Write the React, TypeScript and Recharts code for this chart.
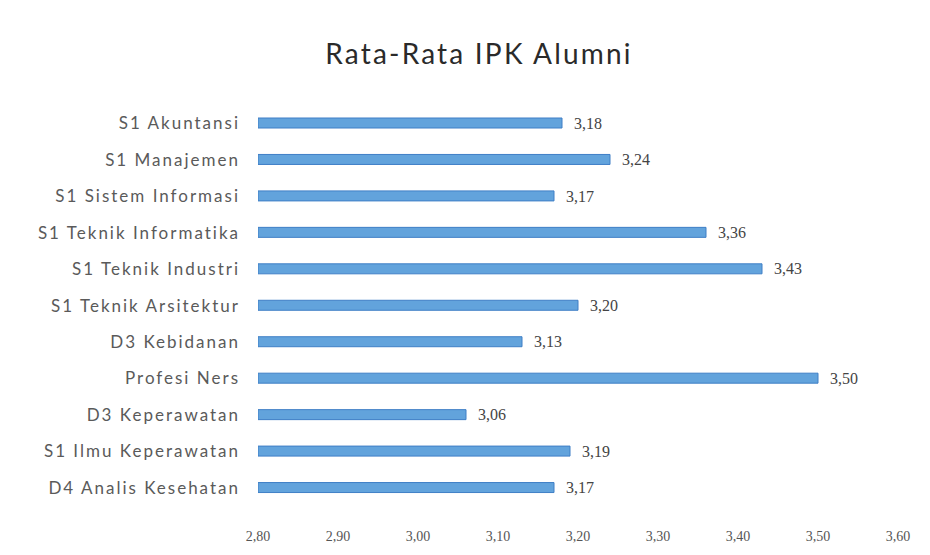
import { BarChart, Bar, XAxis, YAxis, LabelList } from "recharts";

const programs = [
  "S1 Akuntansi",
  "S1 Manajemen",
  "S1 Sistem Informasi",
  "S1 Teknik Informatika",
  "S1 Teknik Industri",
  "S1 Teknik Arsitektur",
  "D3 Kebidanan",
  "Profesi Ners",
  "D3 Keperawatan",
  "S1 Ilmu Keperawatan",
  "D4 Analis Kesehatan",
];

const ipk = [3.18, 3.24, 3.17, 3.36, 3.43, 3.2, 3.13, 3.5, 3.06, 3.19, 3.17];

const axisTicks = [2.8, 2.9, 3.0, 3.1, 3.2, 3.3, 3.4, 3.5, 3.6];

const data = programs.map((p, i) => ({ program: p, ipk: ipk[i] }));

const fmt = (v: number) => v.toFixed(2).replace(".", ",");

function App() {
  return (
    <div
      style={{
        position: "absolute",
        left: 0,
        top: 0,
        width: 930,
        height: 555,
        background: "#fff",
      }}
    >
      <div
        style={{
          position: "absolute",
          top: 36,
          left: 0,
          width: 958,
          textAlign: "center",
          fontFamily: "Lato",
          fontSize: 28,
          letterSpacing: 2.2,
          color: "#2a2a2a",
        }}
      >
        Rata-Rata IPK Alumni
      </div>
      <BarChart
        width={930}
        height={555}
        data={data}
        layout="vertical"
        margin={{ top: 105, right: 32, bottom: 19, left: 8 }}
      >
        <XAxis
          type="number"
          domain={[2.8, 3.6]}
          ticks={axisTicks}
          tickFormatter={fmt}
          axisLine={false}
          tickLine={false}
          tickSize={0}
          tickMargin={25}
          height={30}
          tick={{ fill: "#555", fontSize: 14, fontFamily: "Liberation Serif" }}
          allowDataOverflow
        />
        <YAxis
          type="category"
          dataKey="program"
          width={250}
          axisLine={false}
          tickLine={false}
          tickSize={0}
          tickMargin={18}
          tick={{ fill: "#5a5a5a", fontSize: 17, fontFamily: "Lato", letterSpacing: 2 }}
        />
        <Bar
          dataKey="ipk"
          fill="#62a3dc"
          stroke="#3f7fc6"
          strokeWidth={1}
          barSize={10}
          isAnimationActive={false}
        >
          <LabelList
            dataKey="ipk"
            position="right"
            offset={12}
            formatter={(v: number) => fmt(v)}
            style={{ fill: "#444", fontSize: 16, fontFamily: "Liberation Serif" }}
          />
        </Bar>
      </BarChart>
    </div>
  );
}

export default App;
